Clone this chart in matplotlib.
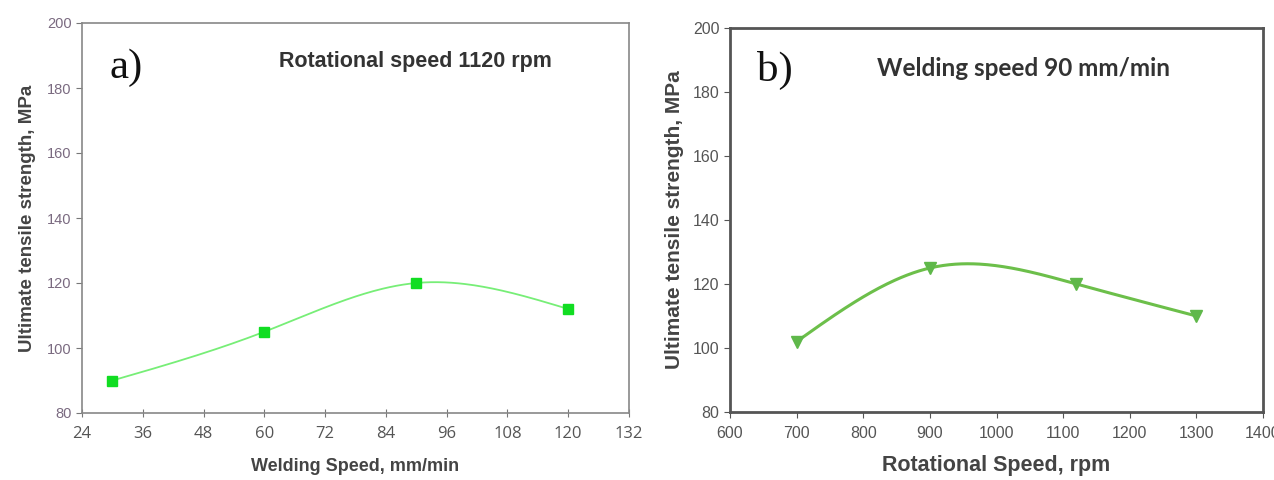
import numpy as np
import matplotlib
matplotlib.use("Agg")
import matplotlib.pyplot as plt

# Data
weld_speed = [30, 60, 90, 120]
uts_a = [90, 105, 120, 112]
rot_speed = [700, 900, 1120, 1300]
uts_b = [102, 125, 120, 110]

xticks_a = [24, 36, 48, 60, 72, 84, 96, 108, 120, 132]
xticks_b = [600, 700, 800, 900, 1000, 1100, 1200, 1300, 1400]
yticks = [80, 100, 120, 140, 160, 180, 200]


def natural_spline(x, y, n=200):
    x = np.asarray(x, float)
    y = np.asarray(y, float)
    k = len(x)
    h = np.diff(x)
    A = np.zeros((k, k))
    r = np.zeros(k)
    A[0, 0] = 1
    A[-1, -1] = 1
    for i in range(1, k - 1):
        A[i, i - 1] = h[i - 1]
        A[i, i] = 2 * (h[i - 1] + h[i])
        A[i, i + 1] = h[i]
        r[i] = 3 * ((y[i + 1] - y[i]) / h[i] - (y[i] - y[i - 1]) / h[i - 1])
    c = np.linalg.solve(A, r)
    xs = np.linspace(x[0], x[-1], n)
    ys = np.empty_like(xs)
    for j, xv in enumerate(xs):
        i = min(np.searchsorted(x, xv, side="right") - 1, k - 2)
        b = (y[i + 1] - y[i]) / h[i] - h[i] * (2 * c[i] + c[i + 1]) / 3
        d = (c[i + 1] - c[i]) / (3 * h[i])
        t = xv - x[i]
        ys[j] = y[i] + b * t + c[i] * t ** 2 + d * t ** 3
    return xs, ys


fig = plt.figure(figsize=(12.74, 4.8), dpi=100)

# Panel a
ax1 = fig.add_axes([82 / 1274, 1 - 413 / 480, (629 - 82) / 1274, (413 - 23) / 480])
xs, ys = natural_spline(weld_speed, uts_a)
ax1.plot(xs, ys, color="#77ee77", lw=1.3, zorder=2)
ax1.plot(weld_speed, uts_a, ls="none", marker="s", ms=7, color="#11dd22", zorder=3)
ax1.set_xlim(24, 132)
ax1.set_ylim(80, 200)
ax1.set_xticks(xticks_a)
ax1.set_yticks(yticks)
ax1.tick_params(axis="y", labelsize=10.5, labelcolor="#7a6a80", color="#777777", direction="out", length=4)
ax1.tick_params(axis="x", labelsize=12, labelcolor="#555555", color="#777777", direction="inout",
                length=6, pad=6)
for lbl in ax1.get_yticklabels():
    lbl.set_fontfamily("Liberation Sans")
for lbl in ax1.get_xticklabels():
    lbl.set_fontfamily("Open Sans")
for s in ax1.spines.values():
    s.set_color("#888888")
    s.set_linewidth(1.2)
ax1.set_xlabel("Welding Speed, mm/min", fontsize=13, fontweight="bold", color="#444444",
               family="Liberation Sans", labelpad=12)
ax1.set_ylabel("Ultimate tensile strength, MPa", fontsize=13.5, fontweight="bold", color="#444444",
               family="Liberation Sans", labelpad=8)
ax1.text(0.05, 0.885, "a)", transform=ax1.transAxes, fontsize=31, family="Liberation Serif",
         color="#111111", va="center")
ax1.text(0.36, 0.9, "Rotational speed 1120 rpm", transform=ax1.transAxes, fontsize=15.5,
         fontweight="bold", family="Liberation Sans", color="#333333", va="center")

# Panel b
ax2 = fig.add_axes([730 / 1274, 1 - 412 / 480, (1263 - 730) / 1274, (412 - 28) / 480])
xs, ys = natural_spline(rot_speed, uts_b)
ax2.plot(xs, ys, color="#6cbf4a", lw=2.2, zorder=2)
ax2.plot(rot_speed, uts_b, ls="none", marker="v", ms=9, color="#5fb84a", zorder=3)
ax2.set_xlim(600, 1400)
ax2.set_ylim(80, 200)
ax2.set_xticks(xticks_b)
ax2.set_yticks(yticks)
ax2.tick_params(axis="both", labelsize=11.5, labelcolor="#555555", color="#555555", direction="out",
                length=4)
ax2.tick_params(axis="x", pad=6)
for lbl in ax2.get_xticklabels() + ax2.get_yticklabels():
    lbl.set_fontfamily("Liberation Sans")
for s in ax2.spines.values():
    s.set_color("#555555")
    s.set_linewidth(2)
ax2.set_xlabel("Rotational Speed, rpm", fontsize=15.5, fontweight="bold", color="#444444",
               family="Liberation Sans", labelpad=10)
ax2.set_ylabel("Ultimate tensile strength, MPa", fontsize=15, fontweight="bold", color="#444444",
               family="Liberation Sans", labelpad=6)
ax2.text(0.05, 0.89, "b)", transform=ax2.transAxes, fontsize=31, family="Liberation Serif",
         color="#111111", va="center")
ax2.text(0.275, 0.895, "Welding speed 90 mm/min", transform=ax2.transAxes, fontsize=17.5,
         fontweight="bold", family="Lato", color="#333333", va="center")

fig.savefig("out.png", dpi=100)
